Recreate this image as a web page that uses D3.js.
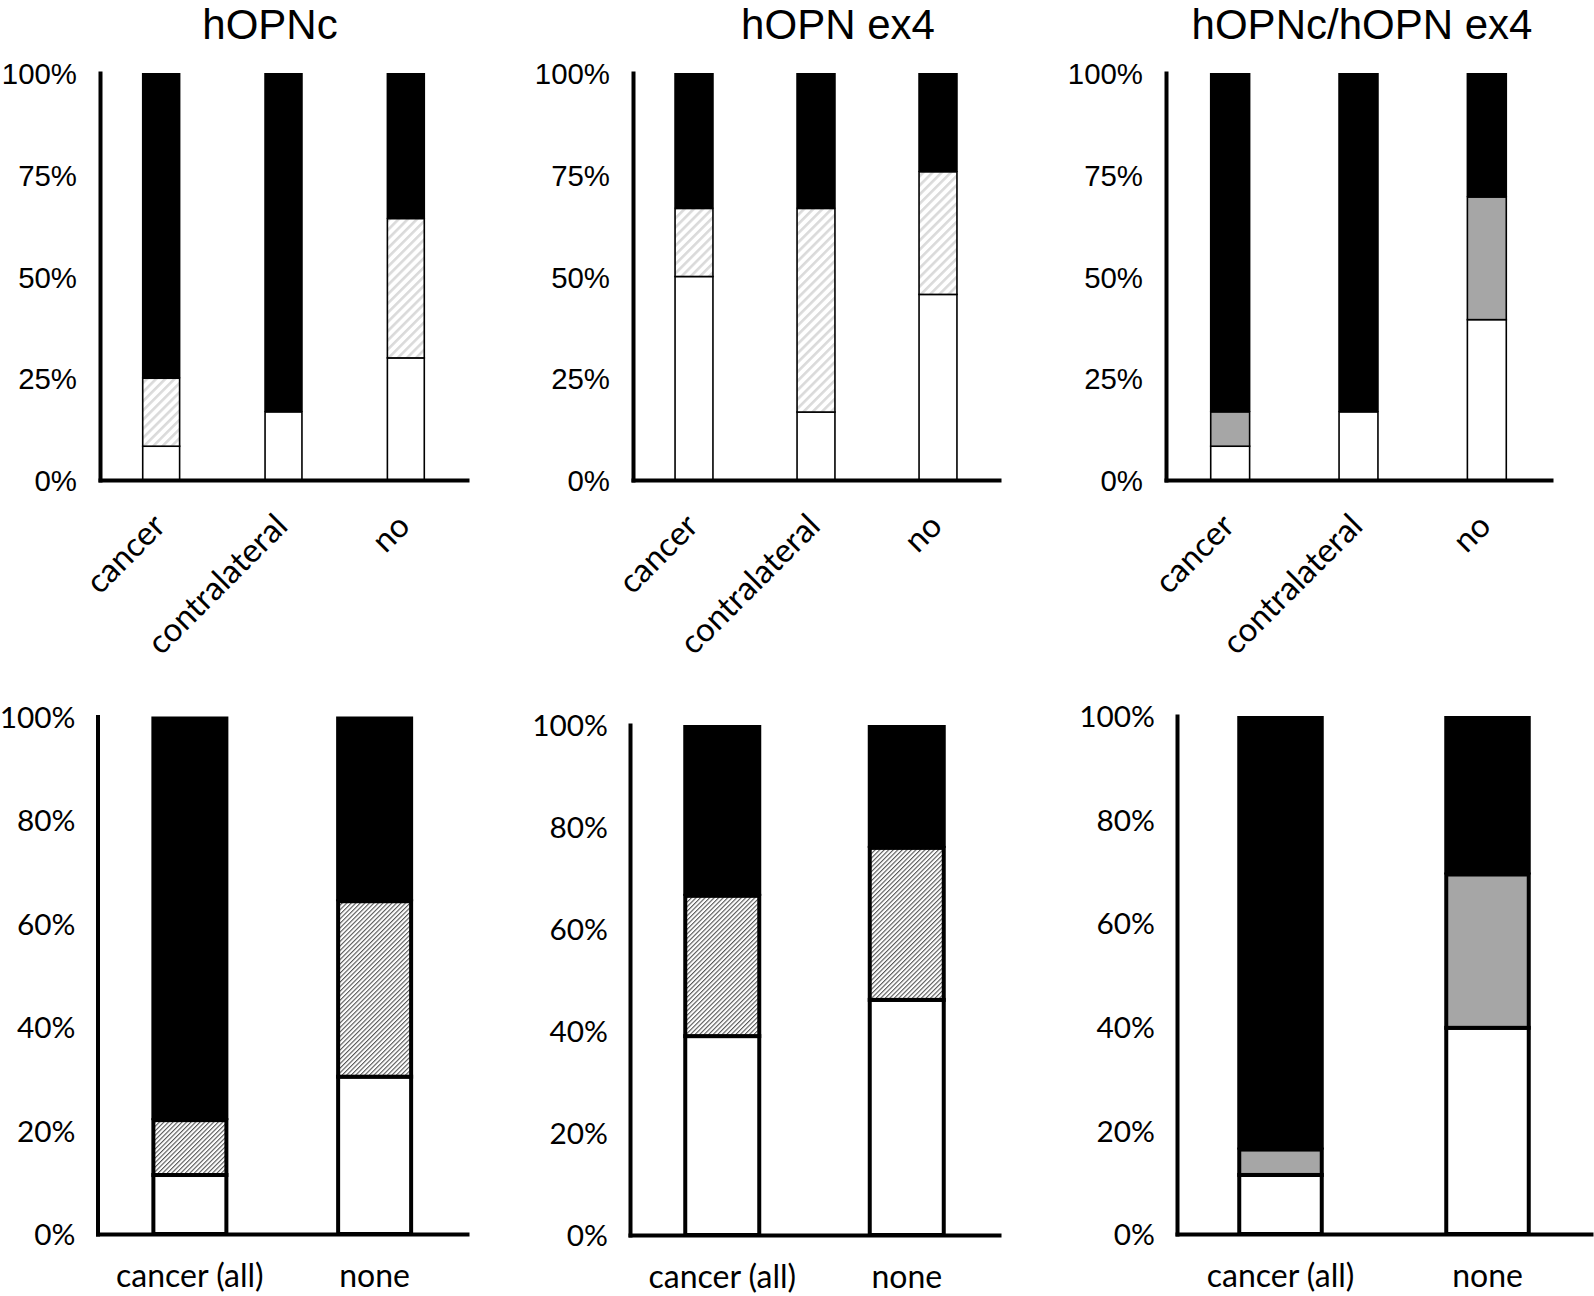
<!DOCTYPE html>
<html>
<head>
<meta charset="utf-8">
<script src="https://cdn.jsdelivr.net/npm/d3@7"></script>
<style>
  html, body { margin: 0; padding: 0; background: #fff; }
  svg { display: block; }
</style>
</head>
<body>
<svg id="chart" width="1594" height="1296"></svg>
<script>
// ---------------- DATA ----------------
const topCategories = ["cancer", "contralateral", "no"];
const bottomCategories = ["cancer (all)", "none"];
const topTicks = [0, 0.25, 0.5, 0.75, 1];
const bottomTicks = [0, 0.2, 0.4, 0.6, 0.8, 1];
const titles = ["hOPNc", "hOPN ex4", "hOPNc/hOPN ex4"];
const seriesKeys = ["white", "mid", "black"];

// top row (percent of each category)
const hOPNcWhite = [8.3, 16.7, 30.0];
const hOPNcMid   = [16.7, 0, 34.2];
const hOPNcBlack = [75.0, 83.3, 35.8];

const ex4White = [50.0, 16.7, 45.6];
const ex4Mid   = [16.7, 50.0, 30.1];
const ex4Black = [33.3, 33.3, 24.3];

const bothWhite = [8.3, 16.7, 39.4];
const bothMid   = [8.4, 0, 30.1];
const bothBlack = [83.3, 83.3, 30.5];

// bottom row
const hOPNcAllWhite = [11.4, 30.4];
const hOPNcAllMid   = [10.6, 33.9];
const hOPNcAllBlack = [78.0, 35.7];

const ex4AllWhite = [39.0, 46.1];
const ex4AllMid   = [27.5, 29.8];
const ex4AllBlack = [33.5, 24.1];

const bothAllWhite = [11.4, 39.8];
const bothAllMid   = [4.9, 29.6];
const bothAllBlack = [83.7, 30.6];

// ---------------- LAYOUT ----------------
const panels = [
  {title: titles[0], titleX: 270, cats: topCategories, vals: [hOPNcWhite, hOPNcMid, hOPNcBlack],
   x: [100, 467], y: [480, 73], bw: 38.5, row: "top", mid: "url(#hatchLight)"},
  {title: titles[1], titleX: 838, cats: topCategories, vals: [ex4White, ex4Mid, ex4Black],
   x: [633, 999], y: [480, 73], bw: 39.5, row: "top", mid: "url(#hatchLight)"},
  {title: titles[2], titleX: 1362, cats: topCategories, vals: [bothWhite, bothMid, bothBlack],
   x: [1166, 1551], y: [480, 73], bw: 40.5, row: "top", mid: "#a6a6a6"},
  {cats: bottomCategories, vals: [hOPNcAllWhite, hOPNcAllMid, hOPNcAllBlack],
   x: [97.5, 467], y: [1234, 716.5], bw: 77, row: "bottom", mid: "url(#hatchDark)"},
  {cats: bottomCategories, vals: [ex4AllWhite, ex4AllMid, ex4AllBlack],
   x: [630, 999], y: [1235, 725], bw: 78, row: "bottom", mid: "url(#hatchDark)"},
  {cats: bottomCategories, vals: [bothAllWhite, bothAllMid, bothAllBlack],
   x: [1177, 1591], y: [1234, 716], bw: 86.5, row: "bottom", mid: "#a6a6a6"}
];

const svg = d3.select("#chart");
const defs = svg.append("defs");

const pl = defs.append("pattern").attr("id", "hatchLight")
  .attr("patternUnits", "userSpaceOnUse").attr("width", 10).attr("height", 6.5)
  .attr("patternTransform", "rotate(-45)");
pl.append("rect").attr("width", 10).attr("height", 6.5).attr("fill", "#fff");
pl.append("rect").attr("width", 10).attr("height", 2.6).attr("fill", "#dadada");

const pd = defs.append("pattern").attr("id", "hatchDark")
  .attr("patternUnits", "userSpaceOnUse").attr("width", 10).attr("height", 3.2)
  .attr("patternTransform", "rotate(-45)");
pd.append("rect").attr("width", 10).attr("height", 3.2).attr("fill", "#fff");
pd.append("rect").attr("width", 10).attr("height", 1.1).attr("fill", "#555");

const CAL = "Lato, 'Open Sans', sans-serif";
const ARIAL = "'Liberation Sans', Arial, sans-serif";

panels.forEach(p => {
  const g = svg.append("g");
  const n = p.cats.length;
  const step = (p.x[1] - p.x[0]) / n;
  const pi = 1 - p.bw / step;
  const x = d3.scaleBand().domain(p.cats).range(p.x).paddingInner(pi).paddingOuter(pi / 2);
  const y = d3.scaleLinear().domain([0, 1]).range(p.y);
  const top = p.row === "top";
  const sw = top ? 1.6 : 4;

  // stacked data
  const rows = p.cats.map((c, i) => {
    const o = {cat: c};
    seriesKeys.forEach((k, j) => o[k] = p.vals[j][i] / 100);
    return o;
  });
  const stacked = d3.stack().keys(seriesKeys)(rows);
  const fills = {white: "#fff", mid: p.mid, black: "#000"};

  stacked.forEach(s => {
    const key = s.key;
    g.append("g").selectAll("rect").data(s.filter(d => d[1] - d[0] > 0.0001)).join("rect")
      .attr("x", d => key === "black" ? x(d.data.cat) : x(d.data.cat) + sw / 2)
      .attr("width", d => key === "black" ? x.bandwidth() : x.bandwidth() - sw)
      .attr("y", d => y(d[1]))
      .attr("height", d => y(d[0]) - y(d[1]))
      .attr("fill", fills[key])
      .attr("stroke", key === "black" ? "none" : "#000")
      .attr("stroke-width", sw);
  });

  // y axis
  const yAxis = d3.axisLeft(y).tickValues(top ? topTicks : bottomTicks)
    .tickFormat(d3.format(".0%")).tickSize(0).tickPadding(top ? 23 : 22);
  const ya = g.append("g").attr("transform", `translate(${p.x[0]},0)`).call(yAxis);
  ya.select(".domain").attr("stroke", "#000").attr("stroke-width", 4).attr("stroke-linecap", "square");
  ya.selectAll("text").attr("font-family", top ? ARIAL : CAL)
    .attr("font-size", top ? 29.4 : 29.8).attr("fill", "#000").attr("dy", "0.36em");

  // x axis
  const xAxis = d3.axisBottom(x).tickSize(0);
  const xa = g.append("g").attr("transform", `translate(0,${p.y[0]})`).call(xAxis);
  xa.select(".domain").attr("stroke", "#000").attr("stroke-width", 4).attr("stroke-linecap", "square");
  const xt = xa.selectAll("text").attr("font-family", CAL).attr("fill", "#000").attr("dy", null);
  if (top) {
    xt.attr("font-size", 33).attr("text-anchor", "end").attr("x", 0).attr("y", 0)
      .attr("transform", "translate(6,48) rotate(-45)");
  } else {
    xt.attr("font-size", 32).attr("text-anchor", "middle").attr("x", 0).attr("y", 53);
  }

  if (p.title) {
    svg.append("text").attr("x", p.titleX).attr("y", 38.5)
      .attr("text-anchor", "middle").attr("font-family", ARIAL)
      .attr("font-size", 42).attr("fill", "#000").text(p.title);
  }
});
</script>
</body>
</html>
